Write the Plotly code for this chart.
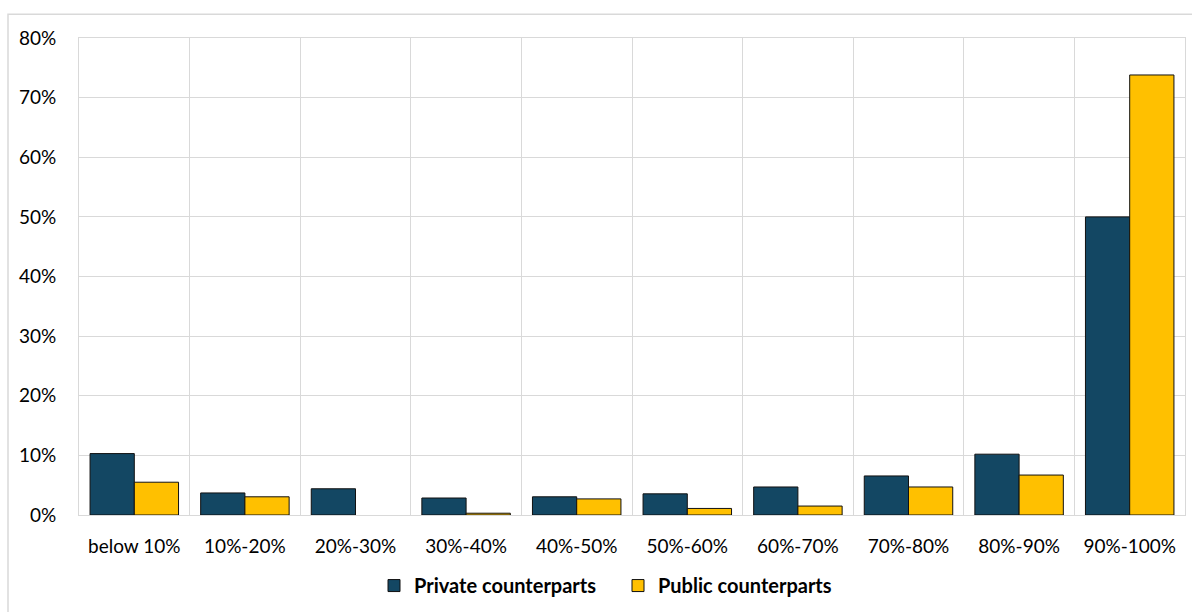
import plotly.graph_objects as go

categories = ["below 10%", "10%-20%", "20%-30%", "30%-40%", "40%-50%",
              "50%-60%", "60%-70%", "70%-80%", "80%-90%", "90%-100%"]
private_vals = [10.3, 3.7, 4.4, 2.85, 3.05, 3.55, 4.7, 6.55, 10.2, 50.0]
public_vals = [5.5, 3.05, 0.0, 0.3, 2.7, 1.1, 1.5, 4.7, 6.7, 73.8]
y_ticks = [0, 10, 20, 30, 40, 50, 60, 70, 80]
y_tick_labels = ["0%", "10%", "20%", "30%", "40%", "50%", "60%", "70%", "80%"]

PRIVATE_COLOR = "#134763"
PUBLIC_COLOR = "#FFC000"
GRID = "#d9d9d9"
FONT = "Lato"


def outline_widths(vals):
    return [0 if v == 0 else 1 for v in vals]


fig = go.Figure()
fig.add_trace(go.Bar(x=categories, y=private_vals, name="Private counterparts",
                     marker=dict(color=PRIVATE_COLOR,
                                 line=dict(color="#111111", width=outline_widths(private_vals)))))
fig.add_trace(go.Bar(x=categories, y=public_vals, name="Public counterparts",
                     marker=dict(color=PUBLIC_COLOR,
                                 line=dict(color="#111111", width=outline_widths(public_vals)))))

L, R, T, B = 79, 7, 38, 94
W, H = 1192, 612
pw, ph = W - L - R, H - T - B

fig.update_layout(
    width=W, height=H,
    margin=dict(l=L, r=R, t=T, b=B, pad=0),
    paper_bgcolor="white", plot_bgcolor="white",
    barmode="group", bargap=0.2, bargroupgap=0,
    font=dict(family=FONT, size=19, color="#000000"),
    showlegend=True,
    legend=dict(orientation="h", x=(374 - L) / pw, xanchor="left",
                y=-(589 - (H - B)) / ph, yanchor="middle",
                font=dict(family=FONT, size=20, weight="bold"),
                itemwidth=30, traceorder="normal",
                entrywidth=199, entrywidthmode="pixels",
                bgcolor="rgba(0,0,0,0)"),
    xaxis=dict(type="category", tickson="boundaries", showgrid=True,
               gridcolor=GRID, gridwidth=1, showline=True, linecolor=GRID,
               mirror=True, ticks="", ticklabelstandoff=14,
               tickfont=dict(family=FONT, size=19)),
    yaxis=dict(range=[0, 80], tickvals=y_ticks, ticktext=y_tick_labels,
               showgrid=True, gridcolor=GRID, gridwidth=1, showline=True,
               linecolor=GRID, mirror=True, ticks="", zeroline=False,
               ticklabelstandoff=18, tickfont=dict(family=FONT, size=19)),
    shapes=[
        dict(type="rect", xref="paper", yref="paper",
             x0=(8 - L) / pw, x1=(W + 20 - L) / pw,
             y0=-(H + 20 - (H - B)) / ph, y1=((H - B) - 14) / ph,
             line=dict(color=GRID, width=1.5), fillcolor="rgba(0,0,0,0)",
             layer="below"),
    ],
)

fig.write_html("out.html")
